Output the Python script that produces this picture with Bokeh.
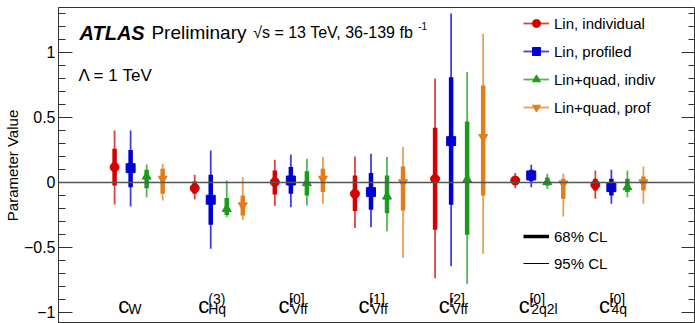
import numpy as np
from bokeh.plotting import figure
from bokeh.models import (ColumnDataSource, Range1d, LinearAxis, SingleIntervalTicker,
                          CustomJSTickFormatter, Span, Label, Legend, LegendItem)
from bokeh.embed import file_html
from bokeh.resources import INLINE
from bokeh.core.properties import value

# ---------------- data ----------------
categories = ["c_W", "c_Hq^(3)", "c'_Vff^[0]", "c'_Vff^[1]", "c'_Vff^[2]", "c'_2q2l^[0]", "c'_4q^[0]"]
label_main = ["c", "c", "c'", "c'", "c'", "c'", "c'"]
label_sub = ["W", "Hq", "Vff", "Vff", "Vff", "2q2l", "4q"]
label_sup = ["", "(3)", "[0]", "[1]", "[2]", "[0]", "[0]"]

series_names = ["Lin, individual", "Lin, profiled", "Lin+quad, indiv", "Lin+quad, prof"]

lin_ind_val = [0.118, -0.044, 0.003, -0.087, 0.028, 0.015, -0.018]
lin_ind_68_lo = [-0.023, -0.087, -0.092, -0.220, -0.364, -0.015, -0.062]
lin_ind_68_hi = [0.259, 0.007, 0.092, 0.054, 0.420, 0.041, 0.028]
lin_ind_95_lo = [-0.169, -0.131, -0.182, -0.351, -0.736, -0.044, -0.126]
lin_ind_95_hi = [0.400, 0.059, 0.175, 0.200, 0.800, 0.072, 0.092]

lin_prof_val = [0.110, -0.133, 0.015, -0.074, 0.318, 0.054, -0.036]
lin_prof_68_lo = [-0.036, -0.326, -0.087, -0.210, -0.172, 0.010, -0.100]
lin_prof_68_hi = [0.250, 0.059, 0.118, 0.072, 0.810, 0.097, 0.028]
lin_prof_95_lo = [-0.185, -0.510, -0.190, -0.344, -0.644, -0.036, -0.164]
lin_prof_95_hi = [0.400, 0.246, 0.215, 0.221, 1.300, 0.136, 0.097]

quad_ind_val = [0.046, -0.203, -0.005, -0.108, 0.023, 0.003, -0.036]
quad_ind_68_lo = [-0.044, -0.250, -0.100, -0.236, -0.403, -0.023, -0.074]
quad_ind_68_hi = [0.098, -0.120, 0.087, 0.054, 0.469, 0.036, 0.028]
quad_ind_95_lo = [-0.113, -0.267, -0.177, -0.375, -0.780, -0.049, -0.113]
quad_ind_95_hi = [0.138, 0.015, 0.182, 0.195, 0.849, 0.067, 0.092]

quad_prof_val = [0.028, -0.177, 0.028, 0.000, 0.349, -0.008, 0.000]
quad_prof_68_lo = [-0.087, -0.254, -0.074, -0.215, -0.100, -0.126, -0.062]
quad_prof_68_hi = [0.105, -0.100, 0.105, 0.123, 0.746, 0.028, 0.046]
quad_prof_95_lo = [-0.138, -0.287, -0.164, -0.579, -0.549, -0.262, -0.164]
quad_prof_95_hi = [0.144, 0.041, 0.195, 0.272, 1.144, 0.067, 0.123]

# ---------------- style ----------------
FONT = "Liberation Sans"
colors = ["#d60000", "#0000d6", "#1c9c1c", "#e27d1c"]
markers = ["circle", "square", "triangle", "inverted_triangle"]
marker_sizes = [9, 9, 9, 9]
offsets = [-0.3, -0.1, 0.1, 0.3]

series = [
    (lin_ind_val, lin_ind_68_lo, lin_ind_68_hi, lin_ind_95_lo, lin_ind_95_hi),
    (lin_prof_val, lin_prof_68_lo, lin_prof_68_hi, lin_prof_95_lo, lin_prof_95_hi),
    (quad_ind_val, quad_ind_68_lo, quad_ind_68_hi, quad_ind_95_lo, quad_ind_95_hi),
    (quad_prof_val, quad_prof_68_lo, quad_prof_68_hi, quad_prof_95_lo, quad_prof_95_hi),
]

p = figure(width=695, height=323, output_backend="svg", toolbar_location=None,
           x_range=Range1d(0, 7.95), y_range=Range1d(-1.085, 1.346),
           x_axis_location=None, min_border_left=57, min_border_right=0,
           min_border_top=7, min_border_bottom=0)
p.xgrid.visible = False
p.ygrid.visible = False
p.outline_line_color = "#333333"
p.outline_line_width = 1
p.background_fill_color = "white"
p.border_fill_color = "white"

ticker = SingleIntervalTicker(interval=0.5, num_minor_ticks=5)
fmt = CustomJSTickFormatter(code="return tick < 0 ? '\u2212' + Math.abs(tick) : String(tick);")
blank_fmt = CustomJSTickFormatter(code="return '';")

ax = p.yaxis[0]
ax.ticker = ticker
ax.formatter = fmt
ax.major_tick_in = 14
ax.major_tick_out = 0
ax.minor_tick_in = 7
ax.minor_tick_out = 0
ax.major_label_standoff = 3
ax.major_label_text_font = FONT
ax.major_label_text_font_size = "16px"
ax.major_label_text_color = "black"
ax.axis_line_color = "#333333"
ax.major_tick_line_color = "#333333"
ax.minor_tick_line_color = "#333333"
ax.axis_label = "Parameter Value"
ax.axis_label_text_font = FONT
ax.axis_label_text_font_size = "15px"
ax.axis_label_text_font_style = "normal"
ax.axis_label_text_color = "black"
ax.axis_label_standoff = 0

rax = LinearAxis(ticker=ticker, formatter=blank_fmt, major_tick_in=14, major_tick_out=0,
                 minor_tick_in=7, minor_tick_out=0, major_label_standoff=0,
                 major_label_text_font_size="1px", axis_line_color="#333333",
                 major_tick_line_color="#333333", minor_tick_line_color="#333333")
p.add_layout(rax, "right")

p.add_layout(Span(location=0, dimension="width", line_color="#555555", line_width=1.5))

xpos = np.arange(1, len(categories) + 1)
items = []
for (vals, lo68, hi68, lo95, hi95), name, c, m, s, off in zip(series, series_names, colors, markers, marker_sizes, offsets):
    src = ColumnDataSource(dict(x=xpos + off, v=vals, lo68=lo68, hi68=hi68, lo95=lo95, hi95=hi95))
    r95 = p.segment(x0="x", y0="lo95", x1="x", y1="hi95", source=src, line_color=c, line_width=1.8, line_alpha=0.75)
    p.segment(x0="x", y0="lo68", x1="x", y1="hi68", source=src, line_color=c, line_width=4.5)
    rm = p.scatter(x="x", y="v", source=src, marker=m, size=s, fill_color=c, line_color=c)
    items.append(LegendItem(label=name, renderers=[r95, rm]))

leg = Legend(items=items, location=(465, 206), orientation="vertical",
             glyph_width=26, glyph_height=20, label_height=20, spacing=8,
             label_standoff=5, padding=0, margin=0, border_line_alpha=0,
             background_fill_alpha=0, label_text_font=FONT, label_text_font_size="15px",
             label_text_color="black")
p.add_layout(leg)

# legend-only renderers for the CL line styles (a single NaN point draws nothing)
r_thick = p.line(x=[np.nan], y=[np.nan], line_color="black", line_width=3.5)
r_thin = p.line(x=[np.nan], y=[np.nan], line_color="black", line_width=1)
leg2 = Legend(items=[LegendItem(label="68% CL", renderers=[r_thick]),
                     LegendItem(label="95% CL", renderers=[r_thin])],
              location=(465, 50), glyph_width=26, glyph_height=20, label_height=20,
              spacing=7, label_standoff=5, padding=0, margin=0, border_line_alpha=0,
              background_fill_alpha=0, label_text_font=FONT, label_text_font_size="15px",
              label_text_color="black")
p.add_layout(leg2)

# category labels
LABEL_Y, SUB_Y, SUP_Y = -0.945, -0.977, -0.898
lab_src = ColumnDataSource(dict(
    x=xpos, main=label_main, sub=label_sub, sup=label_sup,
    sub_dx=[-10.5 if mm == "c" else -8.0 for mm in label_main],
    sup_dx=[-10.5 if mm == "c" else -9.8 for mm in label_main],
))
p.text(x="x", y=LABEL_Y, text="main", source=lab_src, x_offset=-20.5,
       text_font=value(FONT), text_font_size="22px", text_baseline="alphabetic",
       text_align="left", text_color="black")
p.text(x="x", y=SUB_Y, text="sub", source=lab_src, x_offset="sub_dx",
       text_font=value(FONT), text_font_size="14px", text_baseline="alphabetic",
       text_align="left", text_color="black")
p.text(x="x", y=SUP_Y, text="sup", source=lab_src, x_offset="sup_dx",
       text_font=value(FONT), text_font_size="14px", text_baseline="alphabetic",
       text_align="left", text_color="black")

# header texts
p.add_layout(Label(x=0.262, y=1.15, text="ATLAS", text_font=FONT, text_font_size="20px",
                   text_font_style="bold italic", text_baseline="alphabetic", text_color="black"))
p.add_layout(Label(x=1.16, y=1.15, text="Preliminary", text_font=FONT, text_font_size="19px",
                   text_baseline="alphabetic", text_color="black"))
p.add_layout(Label(x=2.43, y=1.154, text="\u221as = 13 TeV, 36-139 fb", text_font=FONT,
                   text_font_size="16px", text_baseline="alphabetic", text_color="black"))
p.add_layout(Label(x=4.49, y=1.205, text="-1", text_font=FONT, text_font_size="10px",
                   text_baseline="alphabetic", text_color="black"))
p.add_layout(Label(x=0.249, y=0.823, text="\u039b = 1 TeV", text_font=FONT, text_font_size="17px",
                   text_baseline="alphabetic", text_color="black"))

open("out.html", "w").write(file_html(p, INLINE))
